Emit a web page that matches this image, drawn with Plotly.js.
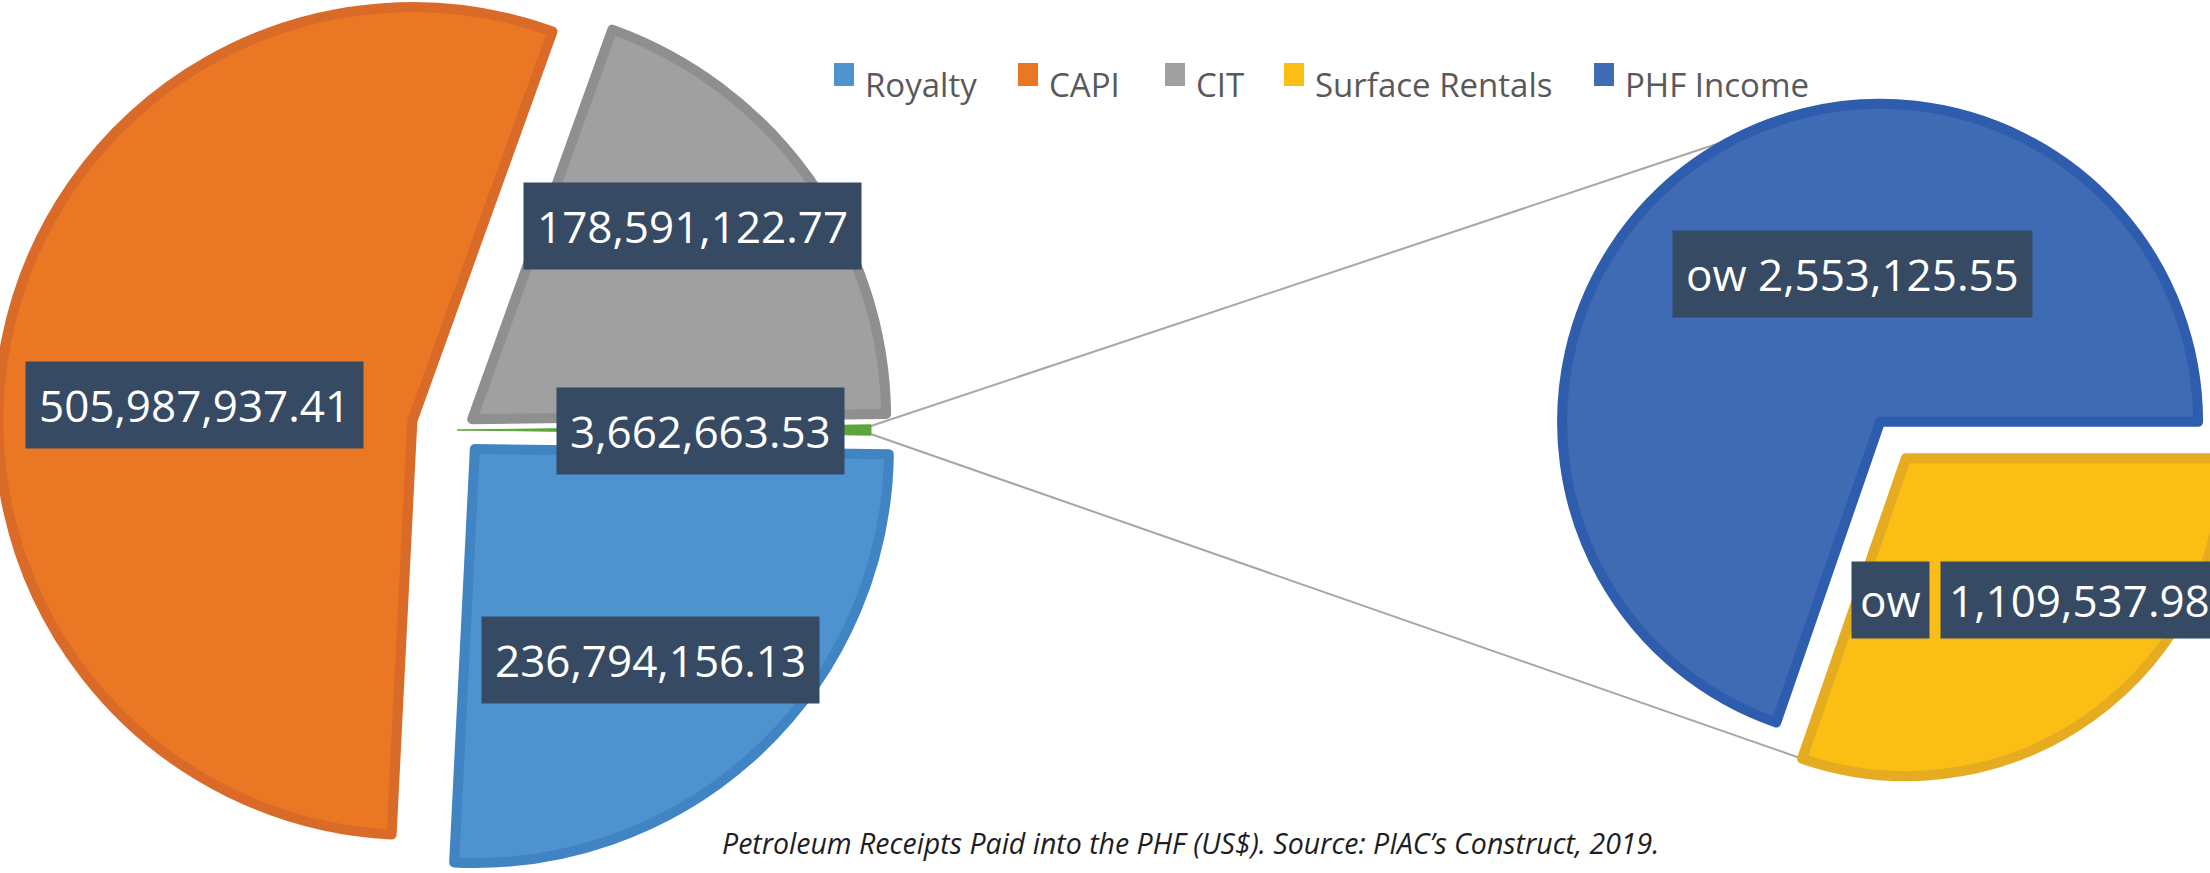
<!DOCTYPE html>
<html><head><meta charset="utf-8">
<script src="https://cdn.plot.ly/plotly-3.0.1.min.js"></script>
<style>
html,body{margin:0;padding:0;overflow:hidden;width:2210px;height:873px;background:#fff;}
#chart{position:absolute;left:-10px;top:-40px;width:2250px;height:950px;}
</style></head><body><div id="chart"></div>
<script>
// ---------------- data ----------------
const mainLabels = ['Other', 'Royalty', 'CAPI', 'CIT'];
const mainValues = [3662663.53, 236794156.13, 505987937.41, 178591122.77];
const subLabels = ['Surface Rentals', 'PHF Income'];
const subValues = [1109537.98, 2553125.55];
const legendLabels = ['Royalty', 'CAPI', 'CIT', 'Surface Rentals', 'PHF Income'];
const subPrefix = 'ow';
const captionText = 'Petroleum Receipts Paid into the PHF (US$). Source: PIAC\u2019s Construct, 2019.';

// ---------------- styles ----------------
const fillColors = {'Other':'#5DA53A','Royalty':'#4E93D0','CAPI':'#E97723','CIT':'#A0A0A0','Surface Rentals':'#FBBE14','PHF Income':'#3E6BB4'};
const edgeColors = {'Other':'#5DA53A','Royalty':'#4184C4','CAPI':'#D96A28','CIT':'#8F8F8F','Surface Rentals':'#E5AC22','PHF Income':'#2F5DAD'};
const edgeWidths = {'Other':1,'Royalty':10,'CAPI':10,'CIT':10,'Surface Rentals':10,'PHF Income':10};

// ---------------- geometry (page pixels) ----------------
const OX = 10, OY = 40, W = 2250, H = 950;
const mainGeom = {cx:457, cy:430, r:414};
const subGeom = {cx:1893, cy:440, r:318};
const mainPull = {'Other':0,'Royalty':0.063,'CAPI':0.11,'CIT':0.045};
const subPull = {'Surface Rentals':0.07,'PHF Income':0.07};

function px(x){ return (x + OX) / W; }
function py(y){ return 1 - (y + OY) / H; }
function domainFor(g, maxPull){
  const half = g.r * (1 + maxPull);
  return {x:[px(g.cx - half), px(g.cx + half)], y:[py(g.cy + half), py(g.cy - half)]};
}
const sum = a => a.reduce((s,v)=>s+v,0);
const fmt = v => v.toLocaleString('en-US',{minimumFractionDigits:2, maximumFractionDigits:2});

const mainPulls = mainLabels.map(l=>mainPull[l]);
const subPulls = subLabels.map(l=>subPull[l]);
const otherAngle = mainValues[0] / sum(mainValues) * 360;

const mainTrace = {
  type:'pie', labels:mainLabels, values:mainValues, sort:false, direction:'clockwise',
  rotation: 90 - otherAngle/2, pull: mainPulls, textinfo:'none', showlegend:false,
  hoverinfo:'label+value',
  marker:{colors:mainLabels.map(l=>fillColors[l]), line:{color:mainLabels.map(l=>edgeColors[l]), width:mainLabels.map(l=>edgeWidths[l])}},
  domain: domainFor(mainGeom, Math.max(...mainPulls))
};
const subTrace = {
  type:'pie', labels:subLabels, values:subValues, sort:false, direction:'clockwise',
  rotation: 90, pull: subPulls, textinfo:'none', showlegend:false,
  hoverinfo:'label+value',
  marker:{colors:subLabels.map(l=>fillColors[l]), line:{color:subLabels.map(l=>edgeColors[l]), width:subLabels.map(l=>edgeWidths[l])}},
  domain: domainFor(subGeom, Math.max(...subPulls))
};

// connector lines: from tip of "Other" slice to the secondary pie
const deg = Math.PI/180;
const subAngles = (()=>{
  const tot = sum(subValues); let a = 90; return subValues.map(v=>{const s=a; a+=v/tot*360; return [s,a];});
})();
function sliceCenter(g, pull, a0, a1){
  const mid = (a0+a1)/2*deg;
  return {x:g.cx + pull*g.r*Math.sin(mid), y:g.cy - pull*g.r*Math.cos(mid)};
}
const srC = sliceCenter(subGeom, subPull['Surface Rentals'], subAngles[0][0], subAngles[0][1]);
const phC = sliceCenter(subGeom, subPull['PHF Income'], subAngles[1][0], subAngles[1][1]);
const tip = {x: mainGeom.cx + mainGeom.r - 6, y: mainGeom.cy};
const upperA = 334*deg, lowerA = subAngles[0][1]*deg;
const upperEnd = {x: phC.x + subGeom.r*Math.sin(upperA), y: phC.y - subGeom.r*Math.cos(upperA)};
const lowerEnd = {x: srC.x + subGeom.r*Math.sin(lowerA), y: srC.y - subGeom.r*Math.cos(lowerA)};

const shapes = [
  {type:'line', xref:'paper', yref:'paper', x0:px(tip.x), y0:py(tip.y-2), x1:px(upperEnd.x), y1:py(upperEnd.y), line:{color:'#A6A6A6', width:2}, layer:'below'},
  {type:'line', xref:'paper', yref:'paper', x0:px(tip.x), y0:py(tip.y+2), x1:px(lowerEnd.x), y1:py(lowerEnd.y), line:{color:'#A6A6A6', width:2}, layer:'below'}
];

// legend (manual, "Other" is not listed)
const legendX = [834, 1018, 1165, 1284, 1594];
const legendY = 84;
const annotations = [];
legendLabels.forEach((l,i)=>{
  shapes.push({type:'rect', xref:'paper', yref:'paper', x0:px(legendX[i]), x1:px(legendX[i]+20), y0:py(86), y1:py(63), fillcolor:fillColors[l], line:{width:0}});
  annotations.push({xref:'paper', yref:'paper', x:px(legendX[i]+29), y:py(legendY), xanchor:'left', yanchor:'middle', showarrow:false, text:l, font:{family:'Open Sans', size:33, color:'#595959'}});
});

// data labels
const boxStyle = {xref:'paper', yref:'paper', xanchor:'center', yanchor:'middle', showarrow:false, bgcolor:'#364A63', borderpad:13, font:{family:'Open Sans', size:44, color:'#FFFFFF'}};
const mainLabelPos = {'Other':[700,431], 'Royalty':[650,660], 'CAPI':[194,405], 'CIT':[692,226]};
mainLabels.forEach((l,i)=>{
  annotations.push(Object.assign({}, boxStyle, {x:px(mainLabelPos[l][0]), y:py(mainLabelPos[l][1]), text:fmt(mainValues[i])}));
});
const phIdx = subLabels.indexOf('PHF Income'), srIdx = subLabels.indexOf('Surface Rentals');
annotations.push(Object.assign({}, boxStyle, {x:px(1852), y:py(274), text:subPrefix + ' ' + fmt(subValues[phIdx])}));
annotations.push(Object.assign({}, boxStyle, {x:px(1890), y:py(600), borderpad:8, text:subPrefix}));
annotations.push(Object.assign({}, boxStyle, {x:px(1940), xanchor:'left', y:py(600), borderpad:8, text:fmt(subValues[srIdx])}));

// caption
annotations.push({xref:'paper', yref:'paper', x:px(1190), y:py(843), xanchor:'center', yanchor:'middle', showarrow:false,
  text:'<i>' + captionText + '</i>', font:{family:'Open Sans', size:28.5, color:'#1E1E1E'}});

const layout = {
  width: W, height: H, autosize:false,
  margin:{l:0, r:0, t:0, b:0},
  paper_bgcolor:'#FFFFFF', plot_bgcolor:'#FFFFFF',
  showlegend:false,
  shapes: shapes, annotations: annotations
};
Plotly.newPlot('chart', [mainTrace, subTrace], layout, {displayModeBar:false, staticPlot:true});
</script></body></html>
